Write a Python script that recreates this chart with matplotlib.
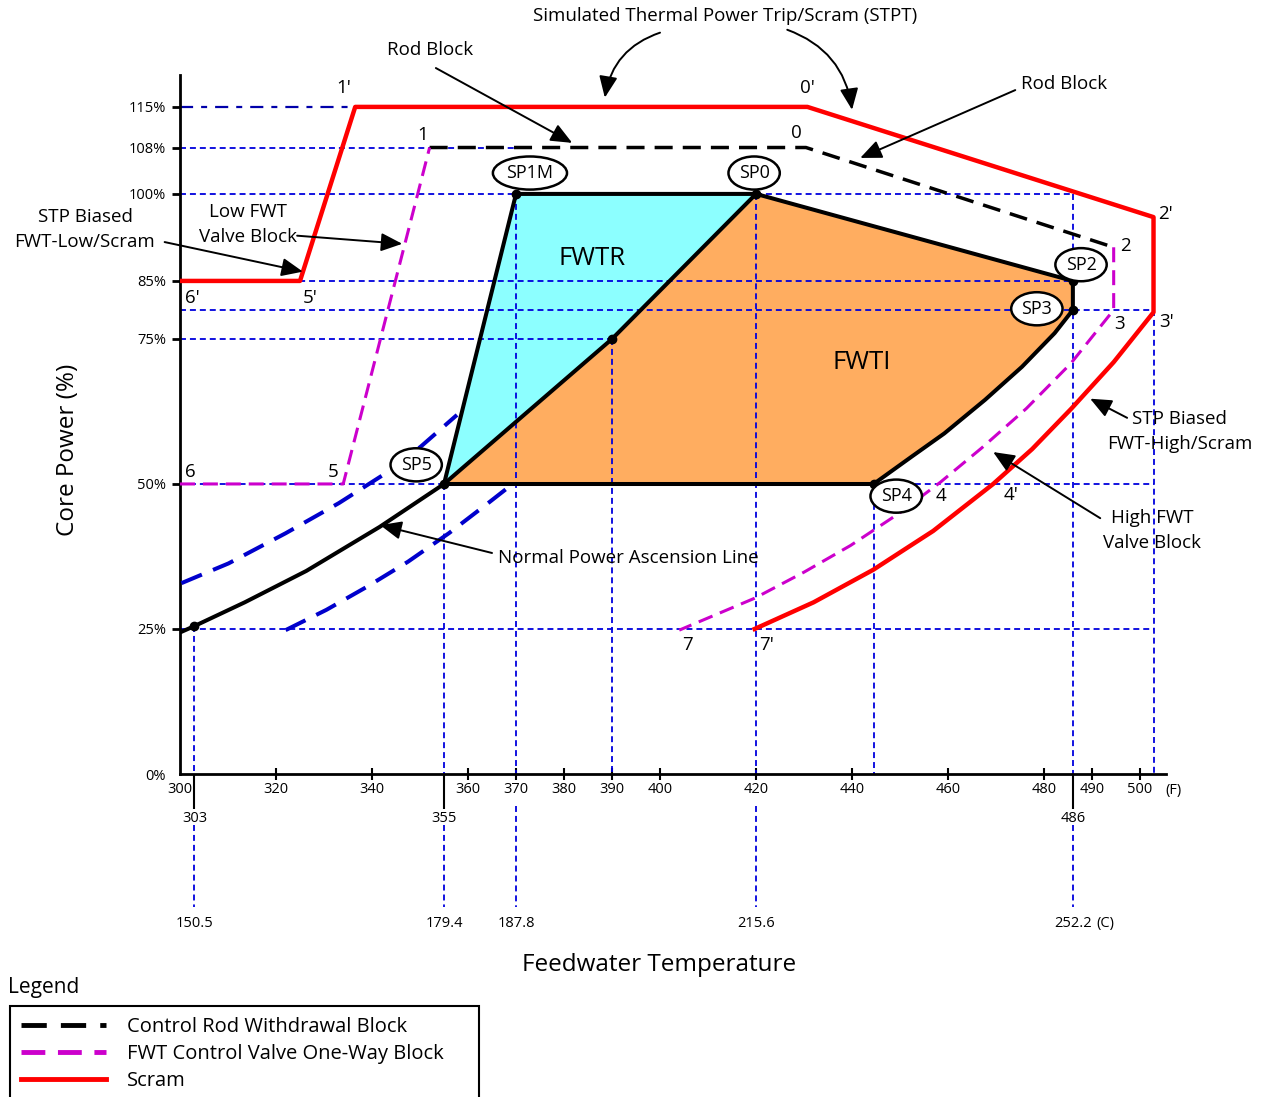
import matplotlib
matplotlib.use("Agg")
import matplotlib.pyplot as plt
from matplotlib.patches import Polygon

plt.rcParams['font.family'] = ['Open Sans', 'DejaVu Sans']

# operating domain state points (feedwater temp F, core power %)
sp_names = ["SP0", "SP1M", "SP2", "SP3", "SP4", "SP5"]
sp_temp = [420, 370, 486, 486, 444.5, 355]
sp_power = [100, 100, 85, 80, 50, 50]

# normal power ascension line
npa_temp = [300, 303, 313.5, 326.3, 341.6, 355, 390, 420]
npa_power = [24.4, 25.5, 29.6, 35.0, 42.6, 50, 75, 100]

# FWTI boundary SP3 -> SP4
fwti_temp = [486, 482.2, 475.4, 467.7, 459.2, 452.4, 444.5]
fwti_power = [80, 76.0, 70.2, 64.5, 58.7, 54.7, 50]

# scram 6'-5'-1'-0'-2'-3'-4'-7'
scram_temp = [300, 325, 336.5, 430.7, 502.8, 502.8, 494.5, 485.7, 477.5,
              469.4, 456.9, 444.4, 432, 419.7]
scram_power = [85, 85, 115, 115, 96, 79.6, 71.0, 63.0, 56.0,
               50.0, 41.9, 35.2, 29.6, 25]

# rod block 1-0-2
rod_temp = [352, 430.4, 494.5]
rod_power = [108, 108, 90.8]

# FWT valve block: 6-5-1 and 2-3-4-7
valve_lo_temp = [300, 334, 352]
valve_lo_power = [50, 50, 108]
valve_hi_temp = [494.5, 494.5, 485.6, 476.3, 467, 458.4, 449.9, 439.7, 430, 419.7, 404]
valve_hi_power = [90.8, 80, 70.8, 63.0, 56.2, 50.3, 45.0, 39.4, 34.8, 30.3, 24.8]

# band around the ascension line
band_hi_temp = [300.3, 310.1, 322.0, 333.1, 342.4, 350.1, 357.7]
band_hi_power = [32.9, 36.3, 41.5, 46.7, 51.6, 56.4, 61.9]
band_lo_temp = [322.0, 330.5, 339.0, 347.5, 356.0, 364.5, 369.6]
band_lo_power = [24.8, 28.3, 32.3, 36.6, 41.5, 46.9, 50.2]

# reference lines
h_ref_power = [108, 100, 85, 80, 75, 50, 25]
h_ref_end = [370, 486, 486, 502.8, 390, 502.8, 502.8]
v_ref_temp = [303, 355, 370, 390, 420, 444.5, 486, 502.8]
v_ref_top = [25.5, 50, 100, 75, 100, 50, 100, 80]
v_ref_celsius = ["150.5", "179.4", "187.8", "", "215.6", "", "252.2", ""]

x_ticks = [300, 320, 340, 360, 370, 380, 390, 400, 420, 440, 460, 480, 490, 500]
x_ticks_minor = [303, 355, 486]
y_ticks = [0, 25, 50, 75, 85, 100, 108, 115]

FS = 13.5
REF = dict(color='#0000dd', lw=1.3, ls=(0, (3.3, 2.2)), zorder=2, clip_on=False)

fig = plt.figure(figsize=(12.7, 10.97), dpi=100)
ax = fig.add_axes([180/1270, 1-774/1097, 986/1270, 699/1097])
ax.set_xlim(300, 505.4)
ax.set_ylim(0, 120.5)

# regions
sp = dict(zip(sp_names, zip(sp_temp, sp_power)))
mid = (npa_temp[-2], npa_power[-2])
fwtr = [sp["SP5"], sp["SP1M"], sp["SP0"], mid]
fwti = [sp["SP5"], mid, sp["SP0"], sp["SP2"]] + list(zip(fwti_temp, fwti_power))
ax.add_patch(Polygon(fwtr, closed=True, fc='#8cffff', ec='none', zorder=1))
ax.add_patch(Polygon(fwti, closed=True, fc='#ffad60', ec='none', zorder=1))

# reference grid
for p, xe in zip(h_ref_power, h_ref_end):
    ax.plot([300, xe], [p, p], **REF)
ax.plot([300, scram_temp[2]], [115, 115], color='#0000aa', lw=1.6,
        ls=(0, (5.9, 3.6, 2.7, 3.6)), zorder=2)
for t, top, c in zip(v_ref_temp, v_ref_top, v_ref_celsius):
    ax.plot([t, t], [top, 0], **REF)
    if c:
        y0 = -8.8 if t in x_ticks_minor else -5.5
        ax.plot([t, t], [y0, -22.9], **REF)
        ax.text(t, -25.7, c, ha='center', va='center', fontsize=10.5)
ax.text(492.7, -25.7, "(C)", ha='center', va='center', fontsize=10.5)
ax.text(505.3, -2.8, "(F)", ha='left', va='center', fontsize=10.5)

# limit lines
ax.plot(band_hi_temp, band_hi_power, color='#0000cc', lw=2.9, ls=(0, (5.5, 3)), zorder=3)
ax.plot(band_lo_temp, band_lo_power, color='#0000cc', lw=2.9, ls=(0, (5.5, 3)), zorder=3)
rod_line, = ax.plot(rod_temp, rod_power, color='black', lw=2.5, ls=(0, (5.2, 2.9)), zorder=3)
valve_line, = ax.plot(valve_lo_temp, valve_lo_power, color='#cc00cc', lw=2.2,
                      ls=(0, (4.9, 2.6)), zorder=3)
ax.plot(valve_hi_temp, valve_hi_power, color='#cc00cc', lw=2.2, ls=(0, (4.9, 2.6)), zorder=3)
scram_line, = ax.plot(scram_temp, scram_power, color='#ff0000', lw=3.2, zorder=3,
                      solid_joinstyle='round')

# operating domain boundaries
BND = dict(color='black', lw=2.9, zorder=4, solid_joinstyle='round')
ax.plot(npa_temp, npa_power, **BND)
ax.plot([sp["SP5"][0], sp["SP1M"][0], sp["SP0"][0], sp["SP2"][0], sp["SP3"][0]],
        [sp["SP5"][1], sp["SP1M"][1], sp["SP0"][1], sp["SP2"][1], sp["SP3"][1]], **BND)
ax.plot(fwti_temp, fwti_power, **BND)
ax.plot([sp["SP4"][0], sp["SP5"][0]], [sp["SP4"][1], sp["SP5"][1]], **BND)
ax.plot(sp_temp + [npa_temp[1], mid[0]], sp_power + [npa_power[1], mid[1]],
        'o', color='black', ms=6, zorder=5)

# state point labels
ell = dict(boxstyle="ellipse,pad=0.15", fc='white', ec='black', lw=1.8)
sp_label_pos = {"SP0": (419.6, 103.6), "SP1M": (372.9, 103.6), "SP2": (487.7, 87.8),
                "SP3": (478.5, 80.2), "SP4": (449.2, 47.9), "SP5": (349.2, 53.3)}
for name, (lx, ly) in sp_label_pos.items():
    ax.text(lx, ly, name, ha='center', va='center', fontsize=13, bbox=ell, zorder=6)

ax.text(385.8, 88.8, "FWTR", ha='center', va='center', fontsize=18.5)
ax.text(442.1, 70.9, "FWTI", ha='center', va='center', fontsize=18.5)

pt_labels = [("1'", 334.2, 118.3), ("0'", 430.8, 118.3), ("1", 350.6, 110.2),
             ("0", 428.5, 110.5), ("2'", 505.2, 96.6), ("2", 496.9, 91.0),
             ("3", 495.8, 77.6), ("3'", 505.6, 77.9), ("6'", 302.5, 82.1),
             ("5'", 327.1, 82.1), ("6", 302.1, 52.1), ("5", 331.9, 52.1),
             ("4", 458.5, 47.9), ("4'", 473.1, 48.1), ("7", 405.8, 22.2),
             ("7'", 422.1, 22.2)]
for s, lx, ly in pt_labels:
    ax.text(lx, ly, s, ha='center', va='center', fontsize=FS, clip_on=False)

# callouts
arrow = dict(arrowstyle='-|>,head_length=0.65,head_width=0.28', color='black',
             lw=1.4, shrinkA=0, shrinkB=0, mutation_scale=20)

def callout(text, tx, ty, start, end, rad=0.0, ha='center'):
    ax.text(tx, ty, text, ha=ha, va='center', fontsize=FS, linespacing=1.5,
            clip_on=False)
    ax.annotate('', xy=end, xytext=start, annotation_clip=False,
                arrowprops=dict(arrow, connectionstyle=f"arc3,rad={rad}"))

ax.text(413.5, 130.6, "Simulated Thermal Power Trip/Scram (STPT)", ha='center',
        va='center', fontsize=FS, clip_on=False)
ax.annotate('', xy=(388.5, 116.6), xytext=(400, 127.8), annotation_clip=False,
            arrowprops=dict(arrow, connectionstyle="arc3,rad=0.3"))
ax.annotate('', xy=(440, 114.5), xytext=(426.5, 128.3), annotation_clip=False,
            arrowprops=dict(arrow, connectionstyle="arc3,rad=-0.3"))
callout("Rod Block", 352.1, 124.8, (353.3, 121.7), (381.7, 108.8))
callout("Rod Block", 484.2, 119.0, (474.0, 117.9), (441.7, 106.2))
callout("STP Biased\nFWT-Low/Scram", 280.2, 93.8, (296.8, 91.7), (325.6, 86.6))
callout("Low FWT\nValve Block", 314.2, 94.8, (324.4, 92.8), (346.3, 91.4))
callout("STP Biased\nFWT-High/Scram", 508.3, 59.0, (497.3, 61.4), (489.6, 64.7))
callout("High FWT\nValve Block", 502.5, 41.9, (491.7, 44.1), (469.4, 55.5))
callout("Normal Power Ascension Line", 366.2, 37.2, (365.0, 38.1), (341.7, 42.9), ha='left')

# axes styling
for side in ('top', 'right'):
    ax.spines[side].set_visible(False)
for side in ('left', 'bottom'):
    ax.spines[side].set_linewidth(2)
ax.set_xticks(x_ticks)
ax.set_xticklabels([str(v) for v in x_ticks])
ax.set_xticks(x_ticks_minor, minor=True)
ax.set_xticklabels([str(v) for v in x_ticks_minor], minor=True)
ax.set_yticks(y_ticks)
ax.set_yticklabels([f"{v}%" for v in y_ticks])
ax.tick_params(axis='x', which='major', direction='inout', length=8, width=1.5,
               labelsize=10.5, pad=2)
ax.tick_params(axis='x', which='minor', direction='out', length=25, width=1.5,
               labelsize=10.5, pad=2)
ax.tick_params(axis='y', direction='out', length=6, width=2, labelsize=10.5, pad=4)
ax.xaxis.get_major_ticks()[0].tick1line.set_visible(False)
ax.yaxis.get_major_ticks()[0].tick1line.set_visible(False)

ax.text(276.7, 55.9, "Core Power (%)", rotation=90, ha='center', va='center',
        fontsize=17.5, clip_on=False)
ax.text(399.8, -32.9, "Feedwater Temperature", ha='center', va='center',
        fontsize=17.5, clip_on=False)

# legend
fig.text(8/1270, 1-987/1097, "Legend", ha='left', va='center', fontsize=15)
leg = fig.legend([rod_line, valve_line, scram_line],
                 ["Control Rod Withdrawal Block", "FWT Control Valve One-Way Block", "Scram"],
                 loc='upper left', bbox_to_anchor=(10/1270, 1-1006/1097, 469/1270, 0),
                 mode='expand', fontsize=14.5, frameon=True, fancybox=False,
                 edgecolor='black', framealpha=1, borderaxespad=0, borderpad=0.55,
                 handlelength=4.2, handletextpad=1.05, labelspacing=0.35)
leg.get_frame().set_linewidth(1.5)
for ln in leg.get_lines():
    ln.set_linewidth(3.5)

fig.savefig("out.png", dpi=100)
